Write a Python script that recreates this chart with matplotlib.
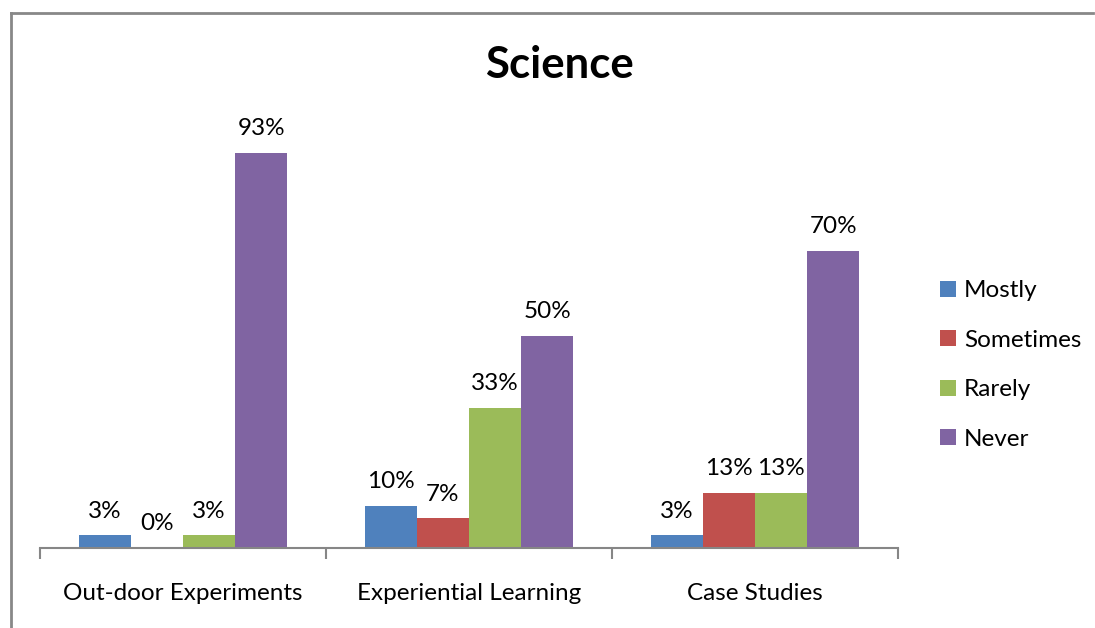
import numpy as np
import matplotlib.pyplot as plt
from matplotlib.lines import Line2D

categories = ["Out-door Experiments", "Experiential Learning", "Case Studies"]
series = ["Mostly", "Sometimes", "Rarely", "Never"]
values = {
    "Mostly": [3, 10, 3],
    "Sometimes": [0, 7, 13],
    "Rarely": [3, 33, 13],
    "Never": [93, 50, 70],
}
colors = ["#4F81BD", "#C0504D", "#9BBB59", "#8064A2"]

plt.rcParams['font.family'] = ['Lato', 'DejaVu Sans']

fig = plt.figure(figsize=(10.95, 6.28), dpi=100)
ax = fig.add_axes([40/1095, 80/628, 858/1095, 425/628])

x = np.arange(len(categories))
w = 0.182
for i, s in enumerate(series):
    pos = x + (i - 1.5) * w
    bars = ax.bar(pos, values[s], width=w, color=colors[i], label=s)
    for b, v in zip(bars, values[s]):
        ax.text(b.get_x() + w/2, v + 3.2, f"{v}%", ha="center", va="bottom",
                fontsize=17.5)

ax.set_xlim(-0.5, 2.5)
ax.set_ylim(0, 100)
ax.set_yticks([])
for sp in ["top", "right", "left"]:
    ax.spines[sp].set_visible(False)
ax.spines["bottom"].set_color("#868686")
ax.spines["bottom"].set_linewidth(1.5)
ax.set_xticks([-0.5, 0.5, 1.5, 2.5])
ax.set_xticklabels([])
ax.set_xticks(x, minor=True)
ax.set_xticklabels(categories, minor=True, fontsize=17.5)
ax.tick_params(axis="x", which="major", length=8, width=1.5, color="#868686")
ax.tick_params(axis="x", which="minor", length=0, pad=25)

fig.text(559/1095, 1 - 65/628, "Science", ha="center", va="center",
         fontsize=31.5, fontweight="bold")

ax.legend(loc="center left", bbox_to_anchor=(918/1095, 1 - 365/628),
          bbox_transform=fig.transFigure, frameon=False, fontsize=17.5,
          handlelength=0.65, handleheight=0.65, handletextpad=0.35,
          labelspacing=1.17)

# chart border (left and top edges)
fig.add_artist(Line2D([11/1095, 11/1095], [0, 1 - 13/628], color="#888888",
                      lw=2, transform=fig.transFigure))
fig.add_artist(Line2D([11/1095, 1093/1095], [1 - 13/628, 1 - 13/628],
                      color="#888888", lw=2, transform=fig.transFigure))

plt.savefig("out.png", dpi=100)
